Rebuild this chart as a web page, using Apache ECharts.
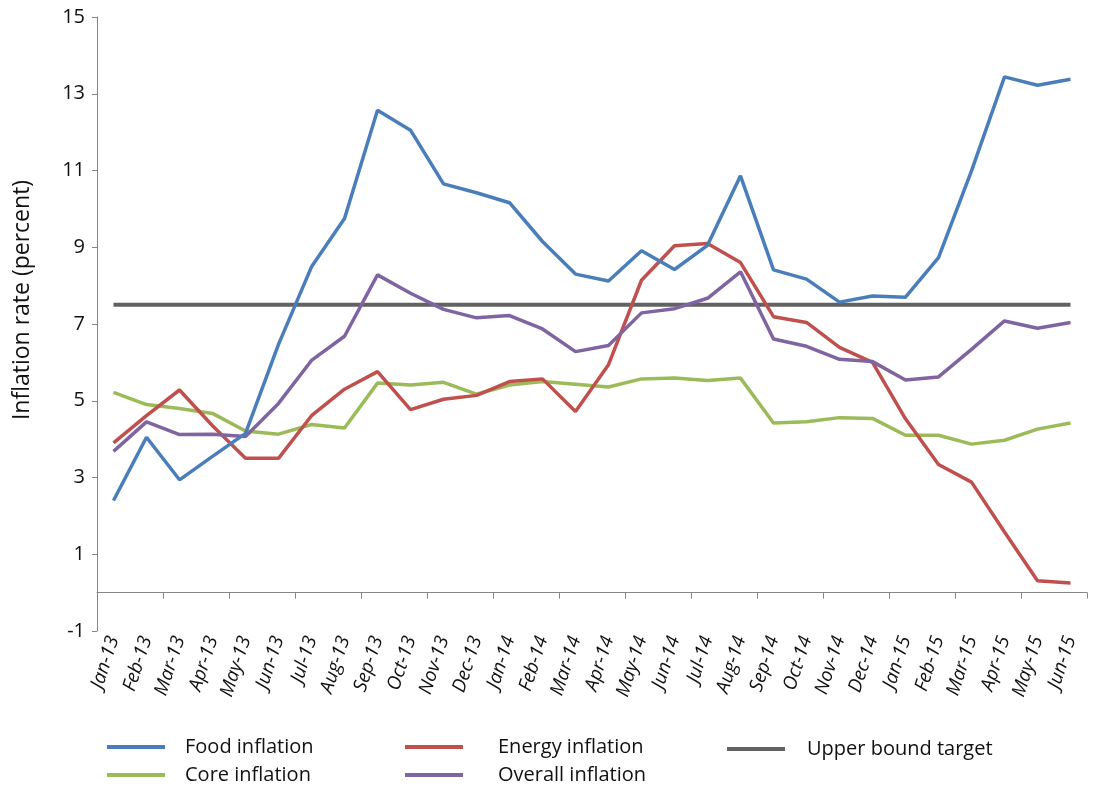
<!DOCTYPE html>
<html>
<head>
<meta charset="utf-8">
<script src="https://cdn.jsdelivr.net/npm/echarts@6/dist/echarts.min.js"></script>
<style>
  html, body { margin: 0; padding: 0; background: #fff; }
  #chart { width: 1094px; height: 785px; }
</style>
</head>
<body>
<div id="chart"></div>
<script>
const months = ['Jan-13', 'Feb-13', 'Mar-13', 'Apr-13', 'May-13', 'Jun-13', 'Jul-13', 'Aug-13', 'Sep-13', 'Oct-13',
    'Nov-13', 'Dec-13', 'Jan-14', 'Feb-14', 'Mar-14', 'Apr-14', 'May-14', 'Jun-14', 'Jul-14', 'Aug-14',
    'Sep-14', 'Oct-14', 'Nov-14', 'Dec-14', 'Jan-15', 'Feb-15', 'Mar-15', 'Apr-15', 'May-15', 'Jun-15'];

const food = [2.40, 4.05, 2.94, 3.55, 4.15, 6.47, 8.49, 9.75, 12.57, 12.05,
    10.65, 10.42, 10.16, 9.15, 8.30, 8.12, 8.91, 8.42, 9.05, 10.86,
    8.41, 8.17, 7.57, 7.73, 7.70, 8.73, 10.99, 13.44, 13.22, 13.38];

const energy = [3.90, 4.61, 5.28, 4.35, 3.50, 3.50, 4.61, 5.30, 5.76, 4.77,
    5.04, 5.14, 5.50, 5.57, 4.72, 5.94, 8.14, 9.04, 9.10, 8.60,
    7.19, 7.04, 6.39, 6.00, 4.53, 3.34, 2.88, 1.58, 0.31, 0.25];

const core = [5.22, 4.90, 4.80, 4.67, 4.21, 4.13, 4.38, 4.29, 5.46, 5.41,
    5.48, 5.17, 5.41, 5.50, 5.43, 5.36, 5.57, 5.59, 5.53, 5.59,
    4.42, 4.45, 4.56, 4.54, 4.10, 4.10, 3.87, 3.97, 4.26, 4.42];

const overall = [3.68, 4.45, 4.12, 4.13, 4.07, 4.93, 6.05, 6.68, 8.28, 7.80,
    7.38, 7.16, 7.22, 6.87, 6.28, 6.44, 7.29, 7.40, 7.67, 8.36,
    6.61, 6.42, 6.08, 6.02, 5.54, 5.62, 6.34, 7.08, 6.89, 7.04];

const upperBound = months.map(() => 7.5);

const FONT = '"Open Sans", "Liberation Sans", sans-serif';

const chart = echarts.init(document.getElementById('chart'));

// one legend per entry so each sits where the original puts it
function legendAt(name, left, top, gap) {
    return {
        data: [name],
        left: left,
        top: top,
        icon: 'rect',
        itemWidth: 58,
        itemHeight: 4,
        selectedMode: false,
        textStyle: {
            fontFamily: FONT,
            fontSize: 20,
            color: '#111',
            padding: [0, 0, 0, gap]
        }
    };
}

function line(name, data, color, width) {
    return {
        name: name,
        type: 'line',
        data: data,
        xAxisIndex: 0,
        symbol: 'none',
        animation: false,
        lineStyle: { color: color, width: width },
        itemStyle: { color: color }
    };
}

const option = {
    backgroundColor: '#fff',
    animation: false,
    grid: { left: 97, right: 7, top: 17, bottom: 154 },
    legend: [
        legendAt('Food inflation', 102, 732, 15),
        legendAt('Core inflation', 102, 760, 15),
        legendAt('Energy inflation', 400, 732, 30),
        legendAt('Overall inflation', 400, 760, 30),
        legendAt('Upper bound target', 722, 734, 17)
    ],
    xAxis: [
        {
            type: 'category',
            data: months,
            position: 'bottom',
            axisLine: { show: false, onZero: false },
            axisTick: { show: false },
            axisLabel: {
                rotate: 72,
                margin: 6,
                interval: 0,
                fontFamily: FONT,
                fontStyle: 'italic',
                fontSize: 19,
                color: '#111'
            }
        },
        {
            type: 'category',
            data: months,
            position: 'bottom',
            axisLine: { show: true, onZero: true, lineStyle: { color: '#868686', width: 1 } },
            axisTick: { show: true, length: 6, lineStyle: { color: '#868686' } },
            axisLabel: { show: false }
        }
    ],
    yAxis: {
        type: 'value',
        min: -1,
        max: 15,
        interval: 2,
        axisLine: { show: true, lineStyle: { color: '#868686', width: 1 } },
        axisTick: { show: true, length: 5, lineStyle: { color: '#868686' } },
        splitLine: { show: false },
        axisLabel: {
            margin: 12,
            fontFamily: FONT,
            fontSize: 20,
            color: '#111'
        }
    },
    graphic: [
        {
            type: 'text',
            x: 22,
            y: 300,
            rotation: Math.PI / 2,
            style: {
                text: 'Inflation rate (percent)',
                fontFamily: FONT,
                fontSize: 23,
                fill: '#111',
                align: 'center',
                verticalAlign: 'middle'
            }
        }
    ],
    series: [
        line('Upper bound target', upperBound, '#626262', 4),
        line('Core inflation', core, '#9bbb59', 3.5),
        line('Energy inflation', energy, '#c0504d', 3.5),
        line('Overall inflation', overall, '#8064a2', 3.5),
        line('Food inflation', food, '#4a7ebb', 3.5)
    ]
};

chart.setOption(option);
</script>
</body>
</html>
